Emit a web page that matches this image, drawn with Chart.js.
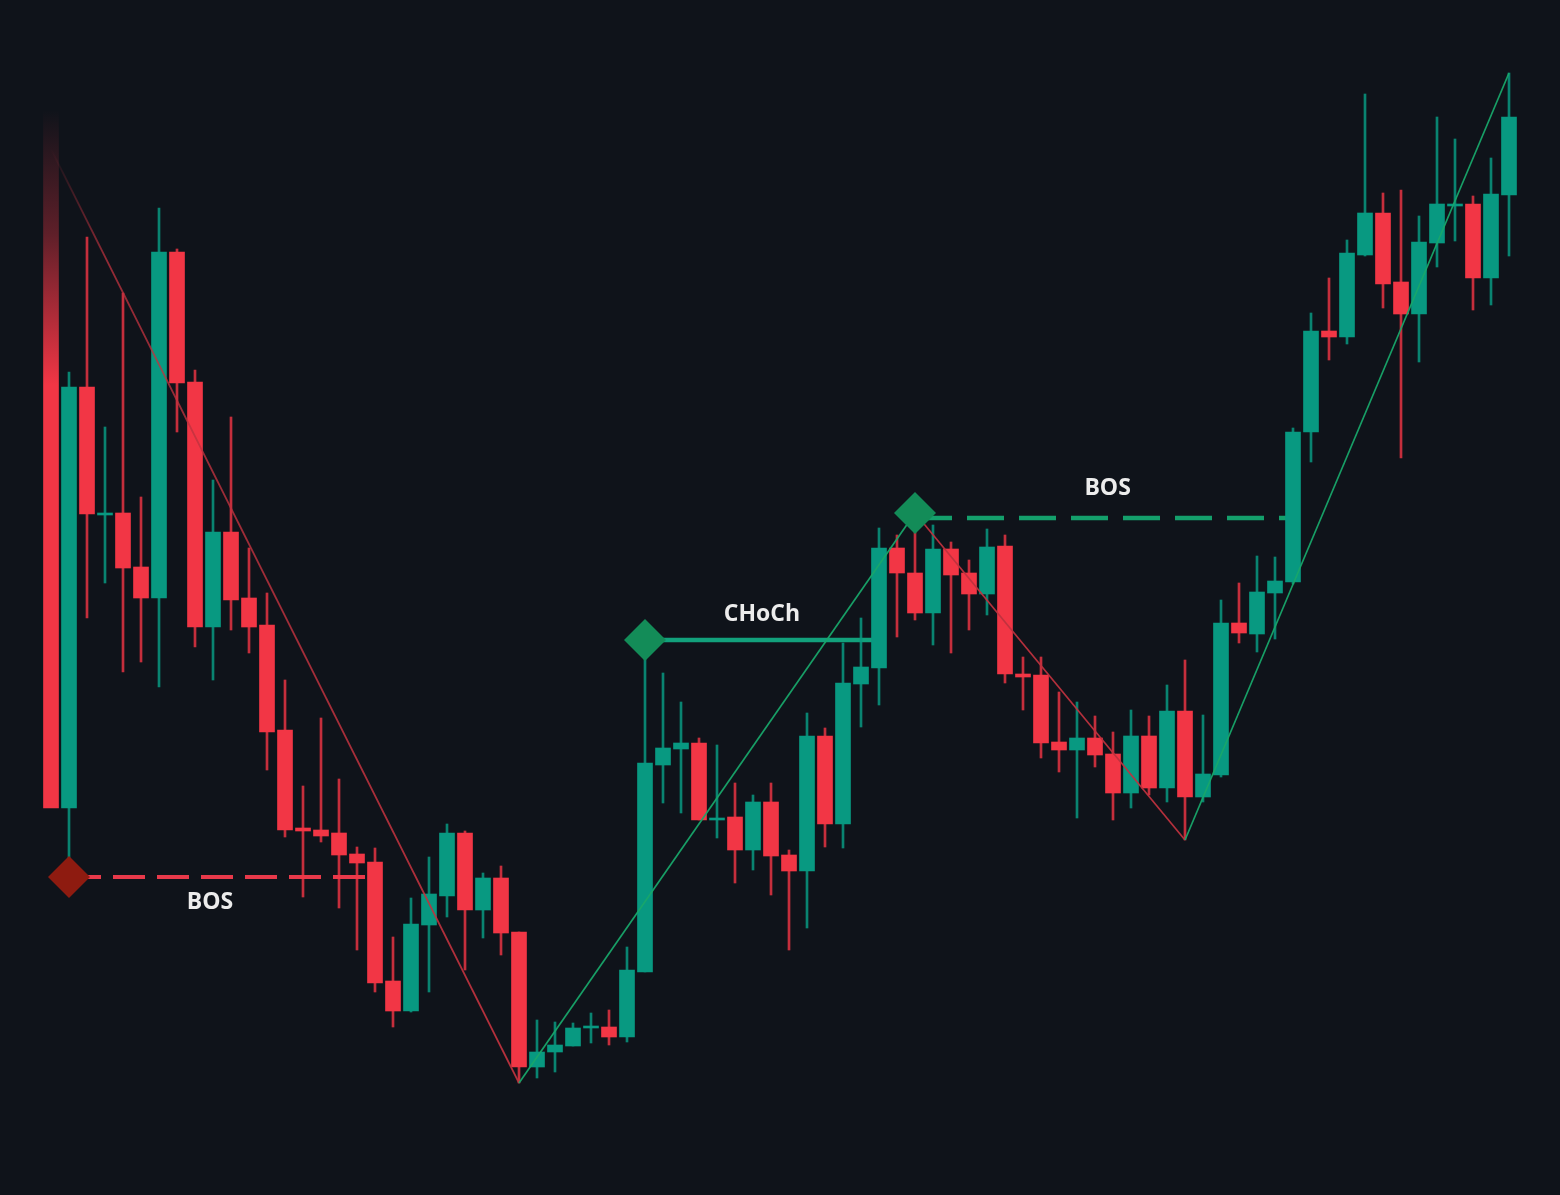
<!DOCTYPE html>
<html><head><meta charset="utf-8">
<style>html,body{margin:0;padding:0;background:#0f131a;overflow:hidden}canvas{display:block}</style>
<script src="https://cdn.jsdelivr.net/npm/chart.js@4.4.1/dist/chart.umd.min.js"></script>
</head><body>
<canvas id="c" width="1560" height="1195"></canvas>
<script>
// ---- data (price units) ----
const opens = [108.5,38.7,80.8,68.0,68.2,62.8,59.7,94.3,81.3,56.8, 66.3,59.7,57.0,46.5,36.7,36.5,36.2,34.1,33.3,21.4, 18.4,27.0,29.9,36.2,28.5,31.7,26.3,12.8,14.3,14.9, 16.7,16.8,15.8,22.3,43.0,44.6,45.2,37.5,37.8,34.5, 39.3,34.0,32.4,45.9,37.1,51.1,52.7,64.7,62.2,58.2, 64.6,62.2,60.1,64.9,52.1,52.0,45.3,44.5,45.7,44.1, 40.2,45.9,40.7,48.4,39.8,42.0,57.2,56.1,60.2,61.3, 76.3,86.4,85.8,94.0,98.2,91.3,88.1,95.2,98.9,99.1, 91.7,100.0];
const highs = [108.5,82.3,95.8,76.8,90.2,69.8,98.7,94.6,82.5,71.5, 77.8,64.7,60.2,51.5,40.9,47.7,41.6,34.8,34.7,25.8, 29.7,33.8,37.1,36.4,32.2,32.9,26.3,17.5,17.3,17.2, 18.2,18.5,24.8,55.5,52.2,49.3,45.7,45.0,41.2,40.0, 41.2,34.5,48.2,46.7,55.2,57.7,66.7,66.0,68.2,67.0, 65.3,63.5,66.6,66.0,53.8,53.8,50.3,49.3,47.9,46.3, 48.5,47.9,51.0,53.5,48.0,59.5,61.2,63.9,63.8,76.7, 88.2,91.7,95.5,110.1,100.2,100.5,97.9,107.8,105.6,99.9, 103.7,112.2];
const lows = [38.7,31.8,57.7,61.2,52.3,53.3,50.8,76.3,54.8,51.5, 56.5,54.2,42.5,35.8,29.8,35.3,28.7,24.5,20.3,16.8, 18.3,20.3,27.8,22.5,25.7,24.0,11.2,11.7,12.3,14.9, 15.2,15.0,15.3,22.3,39.2,38.2,37.5,35.7,31.2,32.5, 30.0,24.5,26.7,34.8,34.7,46.8,49.0,55.8,57.5,55.0, 54.2,56.5,58.0,51.2,48.5,43.7,42.3,37.7,42.8,37.5, 38.7,40.0,39.3,35.5,39.3,41.8,55.2,54.3,55.6,61.1, 73.3,83.5,85.1,93.9,88.7,73.7,83.3,92.8,95.4,88.5, 89.0,93.9];
const closes = [38.7,80.8,68.1,68.2,62.7,59.7,94.3,81.2,56.8,66.3, 59.5,56.8,46.3,36.5,36.4,35.9,34.0,33.2,21.2,18.4, 27.1,30.1,36.2,28.5,31.7,26.2,12.8,14.3,15.0,16.7, 16.9,15.8,22.5,43.2,44.7,45.2,37.5,37.7,34.5,39.3, 33.9,32.4,45.9,37.1,51.2,52.8,64.7,62.2,58.2,64.6, 62.0,60.1,64.8,52.1,51.8,45.2,44.5,45.7,44.0,40.2, 45.9,40.7,48.4,39.8,42.1,57.2,56.2,60.3,61.4,76.3, 86.4,85.8,94.2,98.2,91.1,88.1,95.3,99.1,99.1,91.7, 100.1,107.8];

// swing zigzag pivots
const pivotIndex = [0, 26, 48, 63, 81];
const pivotPrice = [104.6, 11.2, 68.2, 35.5, 112.2];

// structure levels
const bosDownLevel = 31.8, bosDownFrom = 1, bosDownTo = 18;
const chochLevel = 55.5, chochFrom = 33, chochTo = 46;
const bosUpLevel = 67.7, bosUpFrom = 48, bosUpTo = 69;
const swingMarkIndex = [1, 33, 48];
const swingMarkPrice = [31.8, 55.5, 68.2];
const swingMarkKind = ['down', 'up', 'up'];

// labels
const labelText = ['BOS', 'CHoCh', 'BOS'];
const labelIndex = [8.83, 39.5, 58.7];
const labelPrice = [29.3, 58.1, 70.7];

// ---- styling ----
const RED = '#f23645', GREEN = '#089981';
const RED_WICK = 'rgba(242,54,69,0.8)', GREEN_WICK = 'rgba(8,153,129,0.85)';
const idx = opens.map((_, i) => i);
const isUp = i => closes[i] >= opens[i];

function bodyColor(ctx) {
  const i = ctx.dataIndex;
  if (i === 0 && ctx.chart.chartArea) {
    const y = ctx.chart.scales.y;
    const g = ctx.chart.ctx.createLinearGradient(0, y.getPixelForValue(opens[0]), 0, y.getPixelForValue(81));
    g.addColorStop(0, 'rgba(242,54,69,0)');
    g.addColorStop(0.45, 'rgba(242,54,69,0.35)');
    g.addColorStop(1, 'rgba(242,54,69,1)');
    return g;
  }
  return isUp(i) ? GREEN : RED;
}

const textPlugin = {
  id: 'labels',
  afterDatasetsDraw(chart) {
    const {ctx, scales} = chart;
    ctx.save();
    ctx.font = '700 23px "Open Sans", "DejaVu Sans", sans-serif';
    ctx.fillStyle = '#ececec';
    ctx.textAlign = 'center';
    ctx.textBaseline = 'middle';
    labelText.forEach((t, k) => {
      ctx.fillText(t, scales.x.getPixelForValue(labelIndex[k]), scales.y.getPixelForValue(labelPrice[k]));
    });
    ctx.restore();
  }
};
const bgPlugin = {
  id: 'bg',
  beforeDraw(chart) {
    const c = chart.ctx; c.save(); c.fillStyle = '#0f131a'; c.fillRect(0, 0, chart.width, chart.height); c.restore();
  }
};

new Chart(document.getElementById('c'), {
  type: 'bar',
  data: {
    datasets: [
      {
        type: 'line', order: 6,
        data: [{x: bosDownFrom, y: bosDownLevel}, {x: bosDownTo, y: bosDownLevel}],
        borderColor: '#e8394a', borderWidth: 4, borderDash: [32, 12], borderCapStyle: 'butt',
        pointRadius: 0, fill: false
      },
      {
        type: 'line', order: 6,
        data: [{x: chochFrom, y: chochLevel}, {x: chochTo, y: chochLevel}],
        borderColor: '#12a17c', borderWidth: 4.5, borderCapStyle: 'butt',
        pointRadius: 0, fill: false
      },
      {
        type: 'line', order: 6,
        data: [{x: bosUpFrom, y: bosUpLevel}, {x: bosUpTo, y: bosUpLevel}],
        borderColor: '#14a06c', borderWidth: 4.5, borderDash: [37, 15], borderCapStyle: 'butt',
        pointRadius: 0, fill: false
      },
      {
        type: 'bar', order: 5, grouped: false,
        data: idx.map(i => ({x: i, y: [lows[i], highs[i]]})),
        backgroundColor: idx.map(i => i === 0 ? 'rgba(0,0,0,0)' : (isUp(i) ? GREEN_WICK : RED_WICK)),
        barThickness: 2, borderWidth: 0, minBarLength: 1
      },
      {
        type: 'bar', order: 4, grouped: false,
        data: idx.map(i => ({x: i, y: [opens[i], closes[i]]})),
        backgroundColor: bodyColor,
        barThickness: 15, borderWidth: 0, minBarLength: 2
      },
      {
        type: 'line', order: 3,
        data: pivotIndex.map((p, k) => ({x: p, y: pivotPrice[k]})),
        borderWidth: 1.7, pointRadius: 0, fill: false, tension: 0,
        borderColor: '#b8323f',
        segment: {
          borderColor: ctx => {
            const down = ctx.p1.parsed.y < ctx.p0.parsed.y;
            if (ctx.p0DataIndex === 0) {
              const g = ctx.chart.ctx.createLinearGradient(ctx.p0.x, ctx.p0.y, ctx.p1.x, ctx.p1.y);
              g.addColorStop(0, 'rgba(190,50,62,0)');
              g.addColorStop(0.12, 'rgba(190,50,62,0.75)');
              g.addColorStop(1, 'rgba(190,50,62,0.95)');
              return g;
            }
            return down ? 'rgba(190,50,62,0.95)' : 'rgba(24,166,106,0.95)';
          }
        }
      },
      {
        type: 'line', order: 1, showLine: false,
        data: swingMarkIndex.map((p, k) => ({x: p, y: swingMarkPrice[k]})),
        pointStyle: 'rectRot', pointRadius: 21, pointBorderWidth: 0,
        pointBackgroundColor: swingMarkKind.map(k => k === 'down' ? '#8e1b10' : '#138c58')
      }
    ]
  },
  options: {
    responsive: false, animation: false, devicePixelRatio: 1, events: [],
    layout: {padding: 0, autoPadding: false},
    plugins: {legend: {display: false}, tooltip: {enabled: false}},
    scales: {
      x: {type: 'linear', display: false, offset: false, min: -51 / 18, max: -51 / 18 + 1560 / 18},
      y: {type: 'linear', display: false, min: 0, max: 119.5}
    }
  },
  plugins: [bgPlugin, textPlugin]
});
</script>
</body></html>
